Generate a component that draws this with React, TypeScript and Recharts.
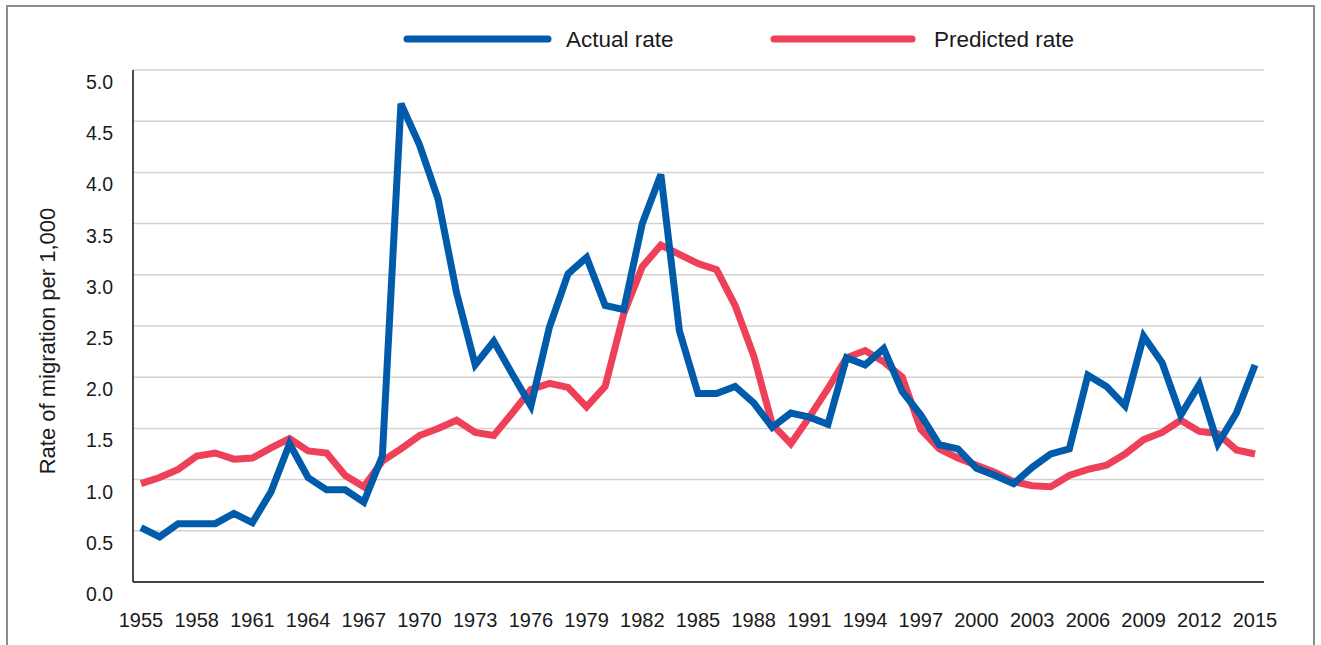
import React from 'react';
import { LineChart, Line, XAxis, YAxis, CartesianGrid, Legend } from 'recharts';

const years = [
  1955, 1956, 1957, 1958, 1959, 1960, 1961, 1962, 1963, 1964, 1965, 1966, 1967, 1968, 1969,
  1970, 1971, 1972, 1973, 1974, 1975, 1976, 1977, 1978, 1979, 1980, 1981, 1982, 1983, 1984,
  1985, 1986, 1987, 1988, 1989, 1990, 1991, 1992, 1993, 1994, 1995, 1996, 1997, 1998, 1999,
  2000, 2001, 2002, 2003, 2004, 2005, 2006, 2007, 2008, 2009, 2010, 2011, 2012, 2013, 2014, 2015,
];

const actualRate = [
  0.53, 0.44, 0.57, 0.57, 0.57, 0.67, 0.58, 0.88, 1.35, 1.02, 0.9, 0.9, 0.78, 1.23, 4.67,
  4.27, 3.74, 2.82, 2.12, 2.35, 2.03, 1.72, 2.49, 3.01, 3.17, 2.7, 2.66, 3.5, 3.98, 2.45,
  1.84, 1.84, 1.91, 1.75, 1.51, 1.65, 1.61, 1.54, 2.19, 2.12, 2.28, 1.86, 1.63, 1.34, 1.3,
  1.11, 1.04, 0.96, 1.12, 1.25, 1.3, 2.02, 1.91, 1.72, 2.4, 2.14, 1.63, 1.93, 1.35, 1.65, 2.12,
];

const predictedRate = [
  0.96, 1.02, 1.1, 1.23, 1.26, 1.2, 1.21, 1.31, 1.4, 1.28, 1.26, 1.04, 0.93, 1.18, 1.3,
  1.43, 1.5, 1.58, 1.46, 1.43, 1.65, 1.88, 1.94, 1.9, 1.71, 1.91, 2.62, 3.08, 3.29, 3.2,
  3.11, 3.05, 2.7, 2.21, 1.54, 1.35, 1.61, 1.89, 2.19, 2.26, 2.15, 2.0, 1.49, 1.3, 1.21,
  1.14, 1.07, 0.98, 0.94, 0.93, 1.04, 1.1, 1.14, 1.25, 1.39, 1.46, 1.58, 1.47, 1.45, 1.29, 1.25,
];

const yTicks = [0, 0.5, 1, 1.5, 2, 2.5, 3, 3.5, 4, 4.5, 5];

const seriesNames = { actual: 'Actual rate', predicted: 'Predicted rate' };
const BLUE = '#005BAA';
const RED = '#EE4058';
const FONT = '"Liberation Sans", Arial, Helvetica, sans-serif';

const data = years.map((y, i) => ({ year: y, actual: actualRate[i], predicted: predictedRate[i] }));

const YTick = (props: any) => {
  const { x, y, payload } = props;
  return (
    <text x={x} y={y + 19} textAnchor="end" fontSize={19.5} fontFamily={FONT} fill="#1a1a1a">
      {Number(payload.value).toFixed(1)}
    </text>
  );
};

const XTick = (props: any) => {
  const { x, y, payload } = props;
  return (
    <text x={x} y={y + 45} textAnchor="middle" fontSize={20} fontFamily={FONT} fill="#1a1a1a">
      {payload.value}
    </text>
  );
};

const YLabel = (props: any) => {
  const { viewBox } = props;
  const cx = 47;
  const cy = viewBox ? viewBox.y + viewBox.height / 2 + 15 : 340;
  return (
    <text
      x={cx}
      y={cy}
      transform={`rotate(-90, ${cx}, ${cy})`}
      textAnchor="middle"
      dominantBaseline="central"
      fontSize={22}
      fontFamily={FONT}
      fill="#1a1a1a"
    >
      Rate of migration per 1,000
    </text>
  );
};

const legendLayout: Record<string, { x1: number; x2: number; tx: number }> = {
  actual: { x1: 407, x2: 548, tx: 566 },
  predicted: { x1: 774, x2: 912, tx: 934 },
};

const LegendContent = (props: any) => {
  const { payload } = props;
  const order = ['actual', 'predicted'];
  const items = order
    .map((k) => (payload || []).find((p: any) => p.dataKey === k))
    .filter(Boolean);
  return (
    <svg width={1321} height={60} style={{ display: 'block' }}>
      {items.map((p: any) => {
        const l = legendLayout[p.dataKey];
        return (
          <g key={p.dataKey}>
            <line x1={l.x1} y1={39} x2={l.x2} y2={39} stroke={p.color} strokeWidth={7} strokeLinecap="round" />
            <text x={l.tx} y={47} fontSize={22.5} fontFamily={FONT} fill="#1a1a1a">
              {p.value}
            </text>
          </g>
        );
      })}
    </svg>
  );
};

export default function App() {
  return (
    <div style={{ position: 'absolute', left: 0, top: 0, width: 1321, height: 645, overflow: 'hidden', background: '#fff' }}>
      <div
        style={{
          position: 'absolute',
          left: 6,
          top: 5,
          width: 1309,
          height: 700,
          border: '2px solid #8c8c8c',
          boxSizing: 'border-box',
        }}
      />
      <div style={{ position: 'absolute', left: 0, top: 0 }}>
        <LineChart width={1321} height={645} data={data} margin={{ top: 10, right: 57, bottom: 0, left: 0 }}>
          <CartesianGrid vertical={false} stroke="#d2d2d2" strokeWidth={1.5} />
          <XAxis
            dataKey="year"
            interval={2}
            padding={{ left: 8, right: 9 }}
            tickLine={false}
            tickSize={0}
            tickMargin={0}
            axisLine={{ stroke: '#111', strokeWidth: 1.5 }}
            tick={<XTick />}
            height={63}
          />
          <YAxis
            domain={[0, 5]}
            ticks={yTicks}
            width={133}
            tickLine={false}
            tickSize={0}
            tickMargin={20}
            axisLine={{ stroke: '#111', strokeWidth: 1.5 }}
            tick={<YTick />}
            interval={0}
            label={<YLabel />}
          />
          <Legend verticalAlign="top" height={60} wrapperStyle={{ position: 'absolute', top: 0, left: 0, width: 1321, height: 60 }} content={<LegendContent />} />
          <Line
            dataKey="predicted"
            name={seriesNames.predicted}
            stroke={RED}
            strokeWidth={7}
            dot={false}
            activeDot={false}
            isAnimationActive={false}
          />
          <Line
            dataKey="actual"
            name={seriesNames.actual}
            stroke={BLUE}
            strokeWidth={7}
            dot={false}
            activeDot={false}
            isAnimationActive={false}
          />
        </LineChart>
      </div>
    </div>
  );
}
